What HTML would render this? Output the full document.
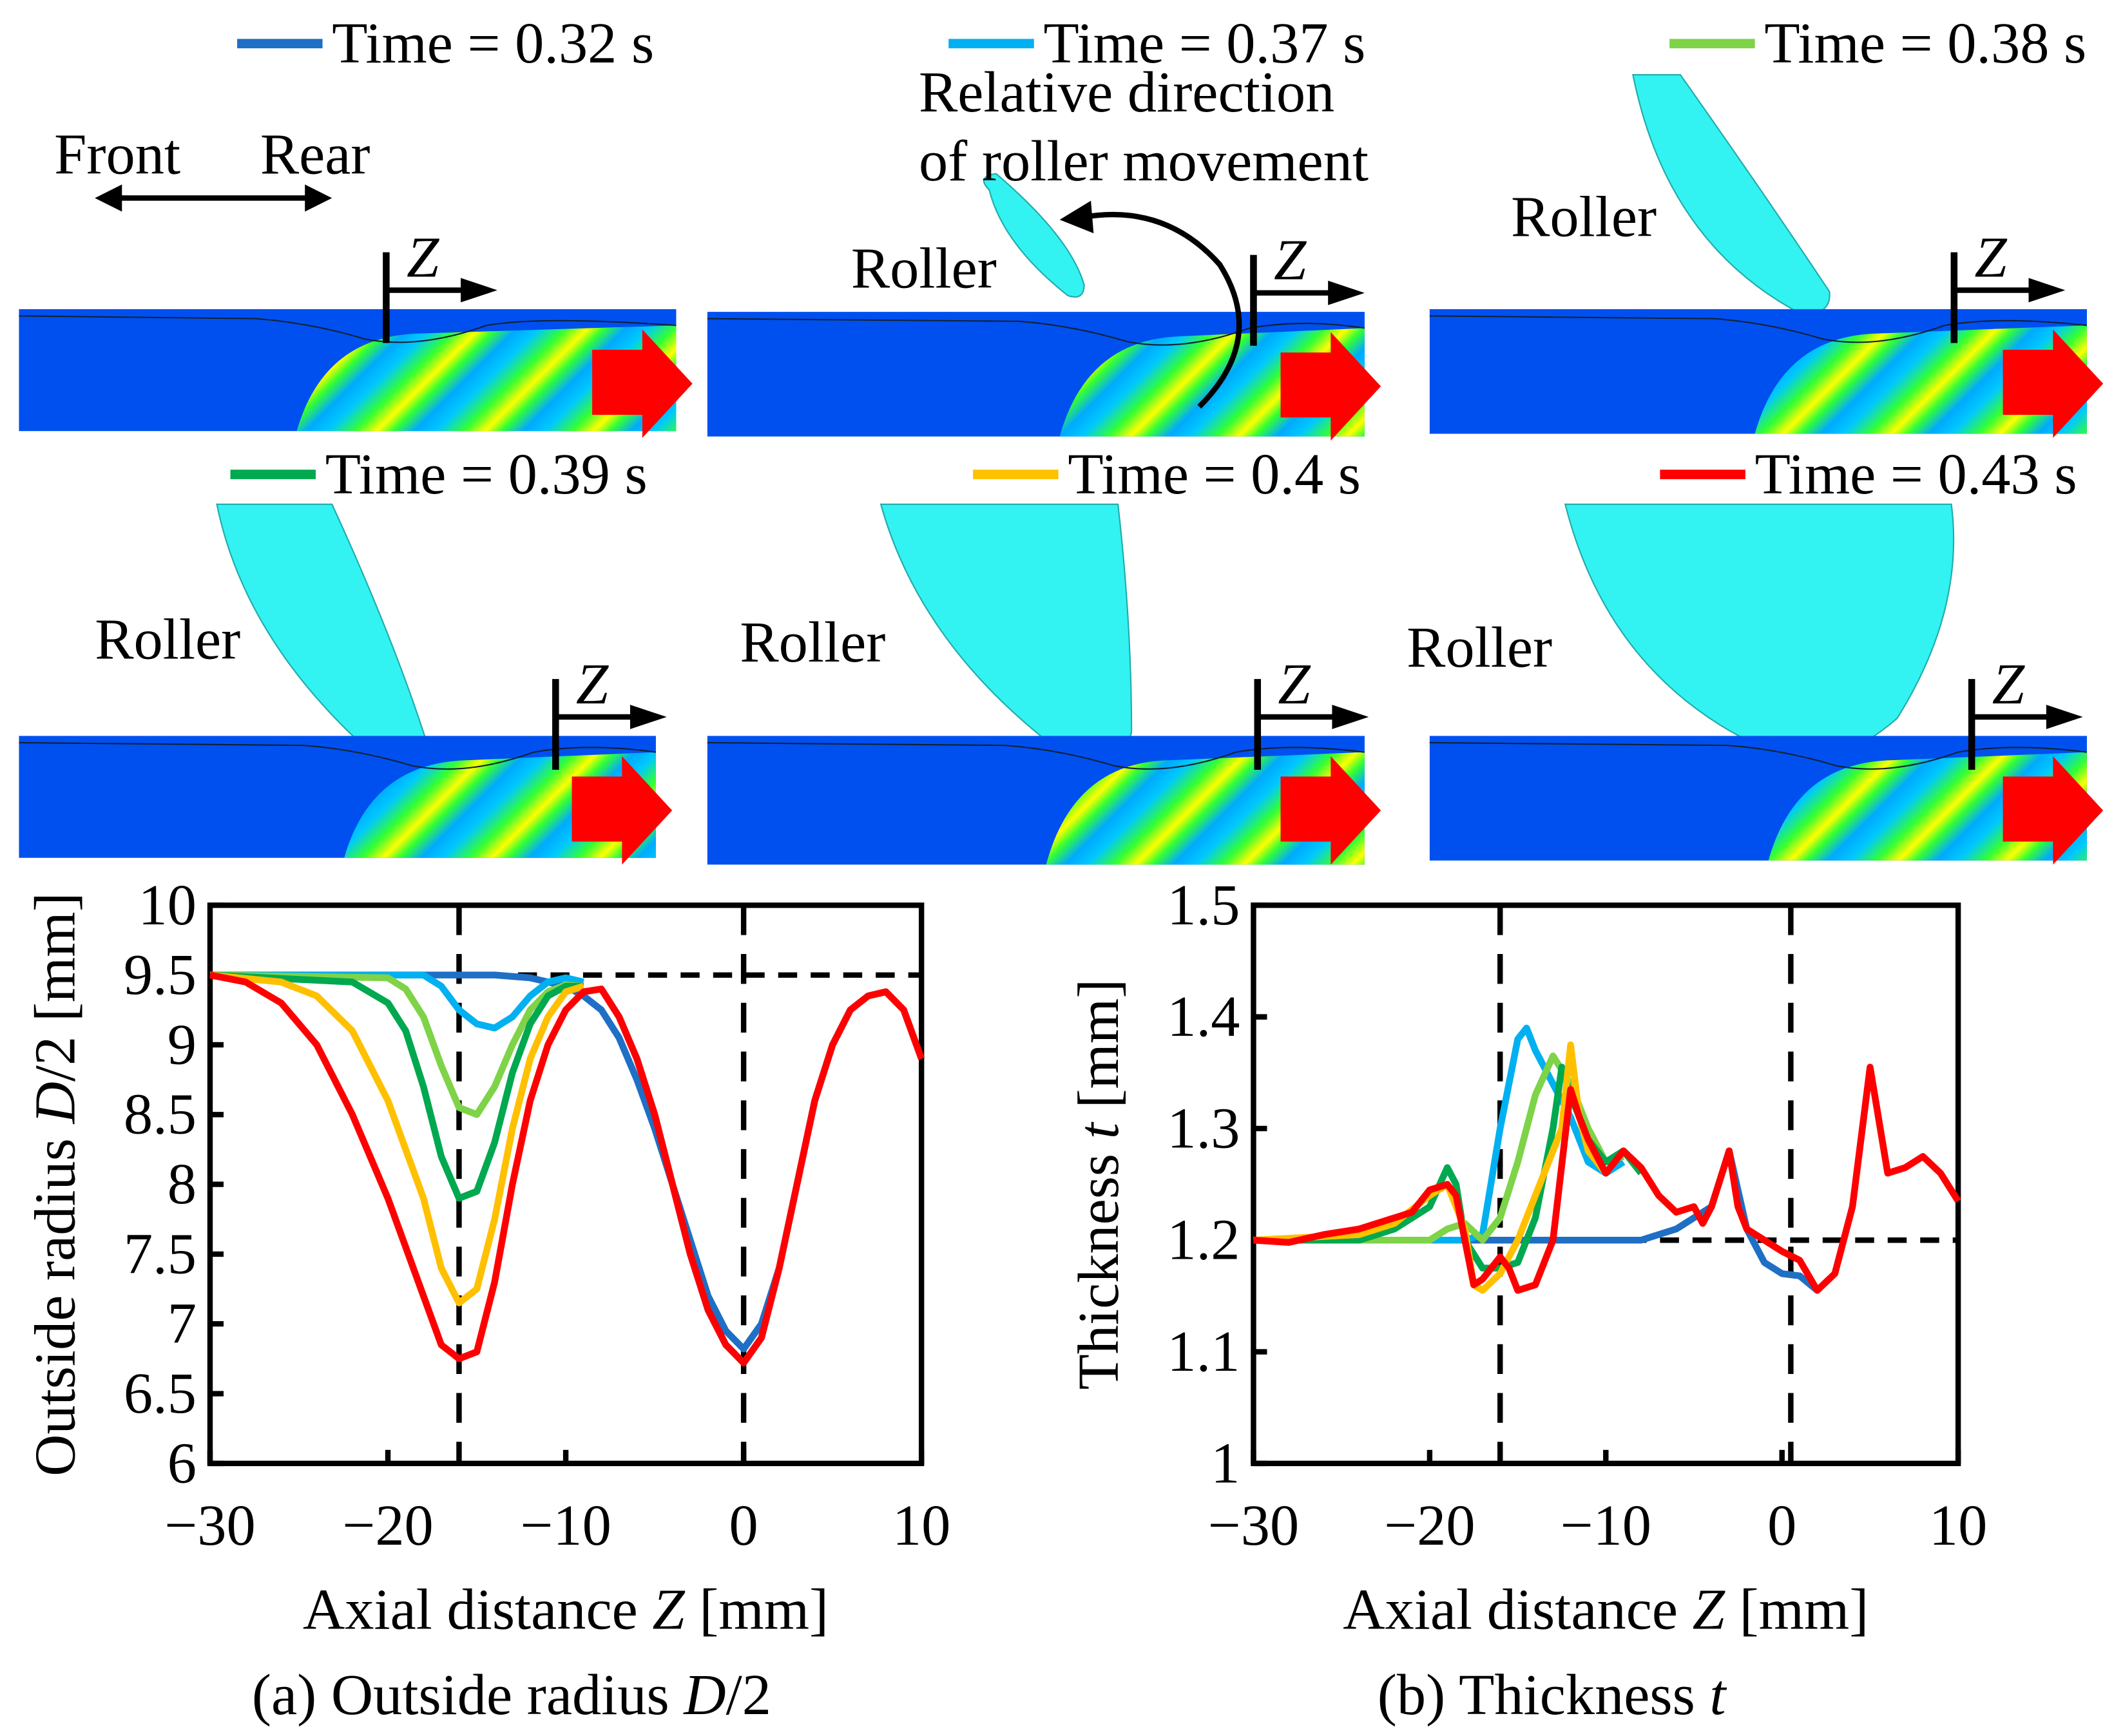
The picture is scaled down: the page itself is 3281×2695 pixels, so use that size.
<!DOCTYPE html>
<html><head><meta charset="utf-8"><style>
html,body{margin:0;padding:0;background:#fff}
svg{display:block}
text{font-family:"Liberation Serif",serif;fill:#000}
</style></head><body>
<svg id="fig" width="3281" height="2695" viewBox="0 0 1560 1281" xmlns="http://www.w3.org/2000/svg">
<defs>
<linearGradient id="stripes" x1="0" y1="0" x2="1" y2="1" spreadMethod="repeat" gradientUnits="userSpaceOnUse" gradientTransform="scale(40)">
<stop offset="0" stop-color="#00c8ff"/><stop offset="0.25" stop-color="#33ff33"/><stop offset="0.45" stop-color="#ffff00"/><stop offset="0.6" stop-color="#33ff33"/><stop offset="0.8" stop-color="#00aaff"/><stop offset="1" stop-color="#00c8ff"/>
</linearGradient>
</defs>
<g id="panels"></g>
<g id="chartA"></g>
<g id="chartB"></g>
</svg>
<script>
const NS='http://www.w3.org/2000/svg';
function mk(parent,tag,attrs,txt){const e=document.createElementNS(NS,tag);for(const k in attrs)e.setAttribute(k,attrs[k]);if(txt!==undefined)e.textContent=txt;parent.appendChild(e);return e;}

/* ---------- Chart data ---------- */
const zA_tail=[-8,-7,-6,-5,-4,-3,-2,-1,0,1,2,3,4,5,6,7,8,9,10];
const rA_tail=[9.4,9.2,8.9,8.5,8.0,7.5,7.1,6.85,6.72,6.9,7.4,8.0,8.6,9.0,9.25,9.35,9.38,9.25,8.9];
const zA_blue=[-30,-14,-12,-10,-9,-8,-7,-6,-5,-4,-3,-2,-1,0,1,2];
const rA_blue=[9.5,9.5,9.48,9.42,9.35,9.25,9.05,8.75,8.4,8.0,7.6,7.2,6.95,6.82,7.0,7.4];
const zA_lblue=[-30,-18,-17,-16,-15,-14,-13,-12,-11,-10,-9];
const rA_lblue=[9.5,9.5,9.42,9.25,9.15,9.12,9.2,9.35,9.45,9.48,9.45];
const zA_lgreen=[-30,-20,-19,-18,-17,-16,-15,-14,-13,-12,-11,-10,-9];
const rA_lgreen=[9.5,9.48,9.4,9.2,8.85,8.55,8.5,8.7,9.0,9.25,9.38,9.43,9.42];
const zA_green=[-30,-22,-20,-19,-18,-17,-16,-15,-14,-13,-12,-11,-10,-9];
const rA_green=[9.5,9.45,9.3,9.1,8.7,8.2,7.9,7.95,8.3,8.8,9.15,9.35,9.42,9.42];
const zA_yellow=[-30,-26,-24,-22,-20,-18,-17,-16,-15,-14,-13,-12,-11,-10,-9];
const rA_yellow=[9.5,9.45,9.35,9.1,8.6,7.9,7.4,7.15,7.25,7.75,8.4,8.9,9.2,9.38,9.42];
const zA_red=[-30,-28,-26,-24,-22,-20,-18,-17,-16,-15,-14,-13,-12,-11,-10,-9];
const rA_red=[9.5,9.45,9.3,9.0,8.5,7.9,7.2,6.85,6.75,6.8,7.3,8.0,8.6,9.0,9.25,9.38];
const xTicks=[-30,-20,-10,0,10];
const yTicksA=[6,6.5,7,7.5,8,8.5,9,9.5,10];
const yTicksB=[1,1.1,1.2,1.3,1.4,1.5];

const zB_blue=[-30,-8,-6,-5,-4,-3,-2,-1,0,1,2];
const tB_blue=[1.2,1.2,1.21,1.22,1.23,1.28,1.21,1.18,1.17,1.168,1.155];
const zB_lblue=[-30,-18,-17,-16,-15,-14.5,-14,-13,-12,-11,-10,-9];
const tB_lblue=[1.2,1.2,1.205,1.3,1.38,1.39,1.37,1.34,1.31,1.27,1.26,1.27];
const zB_lgreen=[-30,-20,-19,-18,-17,-16,-15,-14,-13,-12,-11,-10,-9];
const tB_lgreen=[1.2,1.2,1.21,1.215,1.2,1.22,1.27,1.33,1.365,1.34,1.3,1.27,1.275];
const zB_green=[-30,-24,-22,-20,-19,-18.5,-18,-17,-16,-15,-14,-13,-12.5,-12,-11,-10,-9,-8];
const tB_green=[1.2,1.2,1.21,1.23,1.265,1.25,1.2,1.175,1.175,1.18,1.22,1.3,1.355,1.33,1.29,1.27,1.28,1.26];
const zB_yellow=[-30,-24,-22,-20,-19,-18,-17.5,-17,-16,-15,-14,-13,-12.5,-12,-11.5,-11,-10];
const tB_yellow=[1.2,1.205,1.215,1.24,1.25,1.21,1.16,1.155,1.17,1.2,1.24,1.28,1.3,1.375,1.31,1.28,1.26];
const zB_red=[-30,-28,-26,-24,-22,-21,-20,-19,-18.5,-18,-17.5,-17,-16,-15.5,-15,-14,-13,-12,-11.5,-11,-10,-9,-8,-7,-6,-5,-4.5,-4,-3,-2.5,-2,-1,0,1,2,3,4,5,6,7,8,9,10];
const tB_red=[1.2,1.198,1.205,1.21,1.22,1.225,1.245,1.25,1.24,1.2,1.16,1.165,1.185,1.175,1.155,1.16,1.2,1.335,1.31,1.29,1.26,1.28,1.265,1.24,1.225,1.23,1.215,1.23,1.28,1.23,1.21,1.2,1.19,1.182,1.155,1.17,1.23,1.355,1.26,1.265,1.275,1.26,1.235];

const COL={blue:'#1F6FC5',lblue:'#00B0F0',lgreen:'#7ED348',green:'#00A84F',yellow:'#FFC000',red:'#FF0000'};
const FS=43;

/* ---------- Top panels ---------- */
const P=document.getElementById('panels');
const legends=[[175,32,'blue','Time = 0.32 s'],[700,32,'lblue','Time = 0.37 s'],[1232,32,'lgreen','Time = 0.38 s'],[170,350,'green','Time = 0.39 s'],[718,350,'yellow','Time = 0.4 s'],[1225,350,'red','Time = 0.43 s']];
legends.forEach((l,i)=>{
  const g=mk(P,'g',{});
  
  
  mk(g,'line',{x1:l[0],y1:l[1],x2:l[0]+63,y2:l[1],stroke:COL[l[2]],'stroke-width':7});
  mk(g,'text',{x:l[0]+70,y:l[1]+14,'font-size':FS},l[3]);
});
const panels=[
 {x:14,y:228,w:485,h:90,dip:215,zx:285,roller:null,rl:null},
 {x:522,y:230,w:485,h:92,dip:270,zx:925,roller:'M730 140 Q720 130 735 128 Q790 175 800 210 Q800 222 788 218 Q740 180 730 140 Z',rl:[628,198]},
 {x:1055,y:228,w:485,h:92,dip:250,zx:1442,roller:'M1205 55 L1240 55 Q1300 140 1350 215 Q1352 232 1330 232 Q1230 180 1205 55 Z',rl:[1115,160]},
 {x:14,y:543,w:470,h:90,dip:250,zx:410,roller:'M160 372 L245 372 Q290 470 315 548 Q300 560 270 552 Q180 470 160 372 Z',rl:[70,472]},
 {x:522,y:543,w:485,h:95,dip:260,zx:928,roller:'M650 372 L825 372 Q835 460 835 540 Q830 565 790 560 Q680 480 650 372 Z',rl:[546,474]},
 {x:1055,y:543,w:485,h:92,dip:260,zx:1455,roller:'M1155 372 L1440 372 Q1450 450 1400 530 Q1360 565 1320 560 Q1190 510 1155 372 Z',rl:[1038,478]}
];
panels.forEach((p,i)=>{
  const g=mk(P,'g',{});
  
  
  if(p.roller){const r=mk(g,'path',{d:p.roller,fill:'#33F2F2',stroke:'#2aa','stroke-width':1});
    }
  mk(g,'rect',{x:p.x,y:p.y,width:p.w,height:p.h,fill:'#0050F0'});
  const sx=p.x+p.dip;
  mk(g,'path',{d:`M${sx-10} ${p.y+p.h} Q${sx+10} ${p.y+20} ${sx+80} ${p.y+18} L${p.x+p.w} ${p.y+12} L${p.x+p.w} ${p.y+p.h} Z`,fill:'url(#stripes)'});
  mk(g,'path',{d:`M${p.x} ${p.y+5} L${sx-40} ${p.y+7} Q${sx} ${p.y+10} ${sx+40} ${p.y+22} Q${sx+80} ${p.y+30} ${sx+130} ${p.y+12} Q${sx+170} ${p.y+5} ${p.x+p.w} ${p.y+12}`,fill:'none',stroke:'#123','stroke-width':1});
  const ar=mk(g,'path',{d:`M${p.x+p.w-62} ${p.y+30} L${p.x+p.w-25} ${p.y+30} L${p.x+p.w-25} ${p.y+15} L${p.x+p.w+12} ${p.y+55} L${p.x+p.w-25} ${p.y+95} L${p.x+p.w-25} ${p.y+78} L${p.x+p.w-62} ${p.y+78} Z`,fill:'#FF0000'});
  
  mk(g,'line',{x1:p.zx,y1:p.y+25,x2:p.zx,y2:p.y-42,stroke:'#000','stroke-width':5});
  mk(g,'line',{x1:p.zx,y1:p.y-14,x2:p.zx+60,y2:p.y-14,stroke:'#000','stroke-width':4});
  mk(g,'path',{d:`M${p.zx+55} ${p.y-23} L${p.zx+82} ${p.y-14} L${p.zx+55} ${p.y-5} Z`,fill:'#000'});
  mk(g,'text',{x:p.zx+15,y:p.y-24,'font-size':FS,'font-style':'italic'},'Z');
  if(p.rl) mk(g,'text',{x:p.rl[0],y:p.rl[1]+14,'font-size':FS},'Roller');
});
mk(P,'text',{x:40,y:128,'font-size':FS},'Front');
mk(P,'text',{x:192,y:128,'font-size':FS},'Rear');
mk(P,'line',{x1:82,y1:146,x2:230,y2:146,stroke:'#000','stroke-width':4});
mk(P,'path',{d:'M70 146 L90 136 L90 156 Z M245 146 L225 136 L225 156 Z',fill:'#000'});
mk(P,'text',{x:678,y:82,'font-size':FS},'Relative direction');
mk(P,'text',{x:678,y:133,'font-size':FS},'of roller movement');
mk(P,'path',{d:'M885 300 Q935 250 900 195 Q860 150 800 160',fill:'none',stroke:'#000','stroke-width':4});
mk(P,'path',{d:'M782 162 L805 148 L807 172 Z',fill:'#000'});

/* ---------- Charts ---------- */
function chart(id,x0,x1,y0,y1,ymin,ymax,yTicks,yFmt,series,ylabel,caption,hLine,vLines){
  const G=document.getElementById(id);
  const sx=v=>x0+(v+30)/40*(x1-x0);
  const sy=v=>y1-(v-ymin)/(ymax-ymin)*(y1-y0);
  const frame=mk(G,'rect',{x:x0,y:y0,width:x1-x0,height:y1-y0,fill:'none',stroke:'#000','stroke-width':4});
  
  xTicks.forEach(t=>{
    mk(G,'line',{x1:sx(t),y1:y1,x2:sx(t),y2:y1-10,stroke:'#000','stroke-width':4});
    const tl=mk(G,'text',{x:sx(t),y:y1+60,'font-size':FS,'text-anchor':'middle'},(t<0?'\u2212'+(-t):t));
    
  });
  yTicks.forEach(t=>{
    mk(G,'line',{x1:x0,y1:sy(t),x2:x0+10,y2:sy(t),stroke:'#000','stroke-width':4});
    const tl=mk(G,'text',{x:x0-10,y:sy(t)+14,'font-size':FS,'text-anchor':'end'},yFmt(t));
    
  });
  mk(G,'line',{x1:sx(hLine[0]),y1:sy(hLine[2]),x2:sx(hLine[1]),y2:sy(hLine[2]),stroke:'#000','stroke-width':4,'stroke-dasharray':'14 10'});
  vLines.forEach(v=>mk(G,'line',{x1:sx(v),y1:y0,x2:sx(v),y2:y1,stroke:'#000','stroke-width':4,'stroke-dasharray':'22 14'}));
  series.forEach(s=>{
    const pts=s.z.map((z,i)=>sx(z)+','+sy(s.v[i])).join(' ');
    const pl=mk(G,'polyline',{points:pts,fill:'none',stroke:COL[s.c],'stroke-width':5,'stroke-linejoin':'round'});
    
    
  });
  const xl=mk(G,'text',{x:(x0+x1)/2,y:y1+122,'font-size':FS,'text-anchor':'middle'});
  
  xl.innerHTML='Axial distance <tspan font-style="italic">Z</tspan> [mm]';
  const yl=mk(G,'text',{transform:`translate(${x0-100},${(y0+y1)/2}) rotate(-90)`,'font-size':FS,'text-anchor':'middle'});
  
  yl.innerHTML=ylabel;
  const cp=mk(G,'text',{x:(x0+x1)/2-40,y:y1+185,'font-size':FS,'text-anchor':'middle'});
  
  cp.innerHTML=caption;
}
const ser=(n,c,z,v)=>({n,c,z,v});
chart('chartA',155,680,668,1080,6,10,yTicksA,t=>String(t),[
  ser('0.32s','blue',zA_blue,rA_blue),
  ser('0.32s-tail','blue',zA_tail,rA_tail),
  ser('0.37s','lblue',zA_lblue,rA_lblue),
  ser('0.38s','lgreen',zA_lgreen,rA_lgreen),
  ser('0.39s','green',zA_green,rA_green),
  ser('0.4s','yellow',zA_yellow,rA_yellow),
  ser('0.43s','red',zA_red.concat(zA_tail),rA_red.concat(rA_tail))
],'Outside radius <tspan font-style="italic">D</tspan>/2 [mm]','(a) Outside radius <tspan font-style="italic">D</tspan>/2',[-20,10,9.5],[-16,0]);
chart('chartB',925,1445,668,1080,1,1.5,yTicksB,t=>(t===1?'1':t.toFixed(1)),[
  ser('0.32s','blue',zB_blue,tB_blue),
  ser('0.37s','lblue',zB_lblue,tB_lblue),
  ser('0.38s','lgreen',zB_lgreen,tB_lgreen),
  ser('0.39s','green',zB_green,tB_green),
  ser('0.4s','yellow',zB_yellow,tB_yellow),
  ser('0.43s','red',zB_red,tB_red)
],'Thickness <tspan font-style="italic">t</tspan> [mm]','(b) Thickness <tspan font-style="italic">t</tspan>',[-18,10,1.2],[-16,0.5]);
</script>
</body></html>
